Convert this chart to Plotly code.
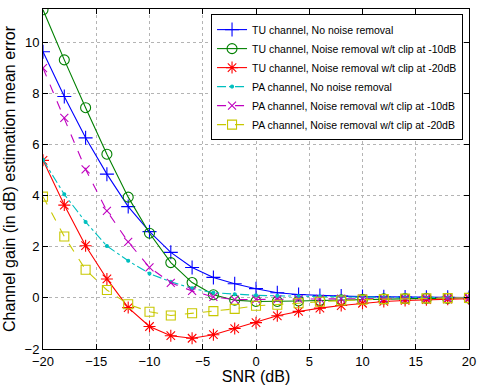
import plotly.graph_objects as go

snr = [-20, -18, -16, -14, -12, -10, -8, -6, -4, -2, 0, 2, 4, 6, 8, 10, 12, 14, 16, 18, 20]

tu_no = [9.63, 7.88, 6.26, 4.84, 3.57, 2.59, 1.78, 1.19, 0.8, 0.55, 0.36, 0.2, 0.13, 0.09, 0.07, 0.05, 0.04, 0.03, 0.02, 0.02, 0.01]
tu_c10 = [11.27, 9.31, 7.44, 5.62, 3.94, 2.53, 1.38, 0.6, 0.12, -0.09, -0.14, -0.14, -0.12, -0.1, -0.08, -0.06, -0.04, -0.03, -0.02, -0.02, -0.01]
tu_c20 = [5.38, 3.63, 2.04, 0.74, -0.38, -1.12, -1.48, -1.58, -1.44, -1.2, -0.97, -0.7, -0.53, -0.4, -0.3, -0.21, -0.14, -0.1, -0.07, -0.05, -0.03]
pa_no = [5.4, 4.05, 2.97, 2.03, 1.45, 0.95, 0.63, 0.37, 0.2, 0.14, 0.1, 0.08, 0.06, 0.05, 0.04, 0.03, 0.02, 0.02, 0.01, 0.01, 0.01]
pa_c10 = [8.99, 7.04, 5.03, 3.4, 2.19, 1.19, 0.59, 0.27, 0.04, -0.07, -0.06, -0.06, -0.05, -0.04, -0.03, -0.02, -0.02, -0.01, -0.01, -0.01, 0.0]
pa_c20 = [3.96, 2.4, 1.1, 0.31, -0.25, -0.54, -0.69, -0.6, -0.52, -0.43, -0.31, -0.27, -0.21, -0.15, -0.1, -0.07, -0.05, -0.03, -0.02, -0.01, 0.0]

names = [
    "TU channel, No noise removal",
    "TU channel, Noise removal w/t clip at -10dB",
    "TU channel, Noise removal w/t clip at -20dB",
    "PA channel, No noise removal",
    "PA channel, Noise removal w/t clip at -10dB",
    "PA channel, Noise removal w/t clip at -20dB",
]
series = [tu_no, tu_c10, tu_c20, pa_no, pa_c10, pa_c20]
colors = ["#0000ff", "#008000", "#ff0000", "#00bfbf", "#bf00bf", "#c8c800"]
dashes = ["solid", "solid", "solid", "dashdot", "dash", "dash"]
symbols = ["cross-thin-open", "circle-open", "asterisk-open", "circle", "x-thin-open", "square-open"]
msizes = [10, 10, 10, 3, 8, 9]

fig = go.Figure()
for nm, ys, c, d, s, ms in zip(names, series, colors, dashes, symbols, msizes):
    fig.add_trace(go.Scatter(
        x=snr, y=ys, name=nm, mode="lines+markers",
        line=dict(color=c, width=1.1, dash=d),
        marker=dict(symbol=s, size=ms, color=c, line=dict(color=c, width=1.1)),
    ))

axis_common = dict(
    showline=True, linecolor="black", linewidth=1, mirror="ticks",
    ticks="inside", ticklen=5, tickcolor="black",
    showgrid=True, gridcolor="#b4b4b4", griddash="dot", gridwidth=1,
    zeroline=False, tickfont=dict(size=13, color="black"),
    ticklabeloverflow="allow",
)
fig.update_xaxes(range=[-20, 20], tickvals=[-20, -15, -10, -5, 0, 5, 10, 15, 20],
                 title=dict(text="SNR (dB)", font=dict(size=16, color="black"), standoff=2),
                 **axis_common)
fig.update_yaxes(range=[-2, 11.3], tickvals=[-2, 0, 2, 4, 6, 8, 10],
                 title=dict(text="Channel gain (in dB) estimation mean error", font=dict(size=16, color="black"), standoff=4),
                 **axis_common)

fig.update_layout(
    width=479, height=385,
    margin=dict(l=43, r=3, t=9, b=34),
    paper_bgcolor="white", plot_bgcolor="white",
    font=dict(family="Liberation Sans, Arial, sans-serif", color="black"),
    legend=dict(
        x=0.986, y=0.985, xanchor="right", yanchor="top",
        bgcolor="white", bordercolor="black", borderwidth=1,
        font=dict(size=10.5, color="black"), tracegroupgap=0,
        itemwidth=30,
    ),
    showlegend=True,
)

fig.write_html("out.html", config={"displayModeBar": False},
               post_script="document.body.style.margin='0';document.body.style.overflow='hidden';")
